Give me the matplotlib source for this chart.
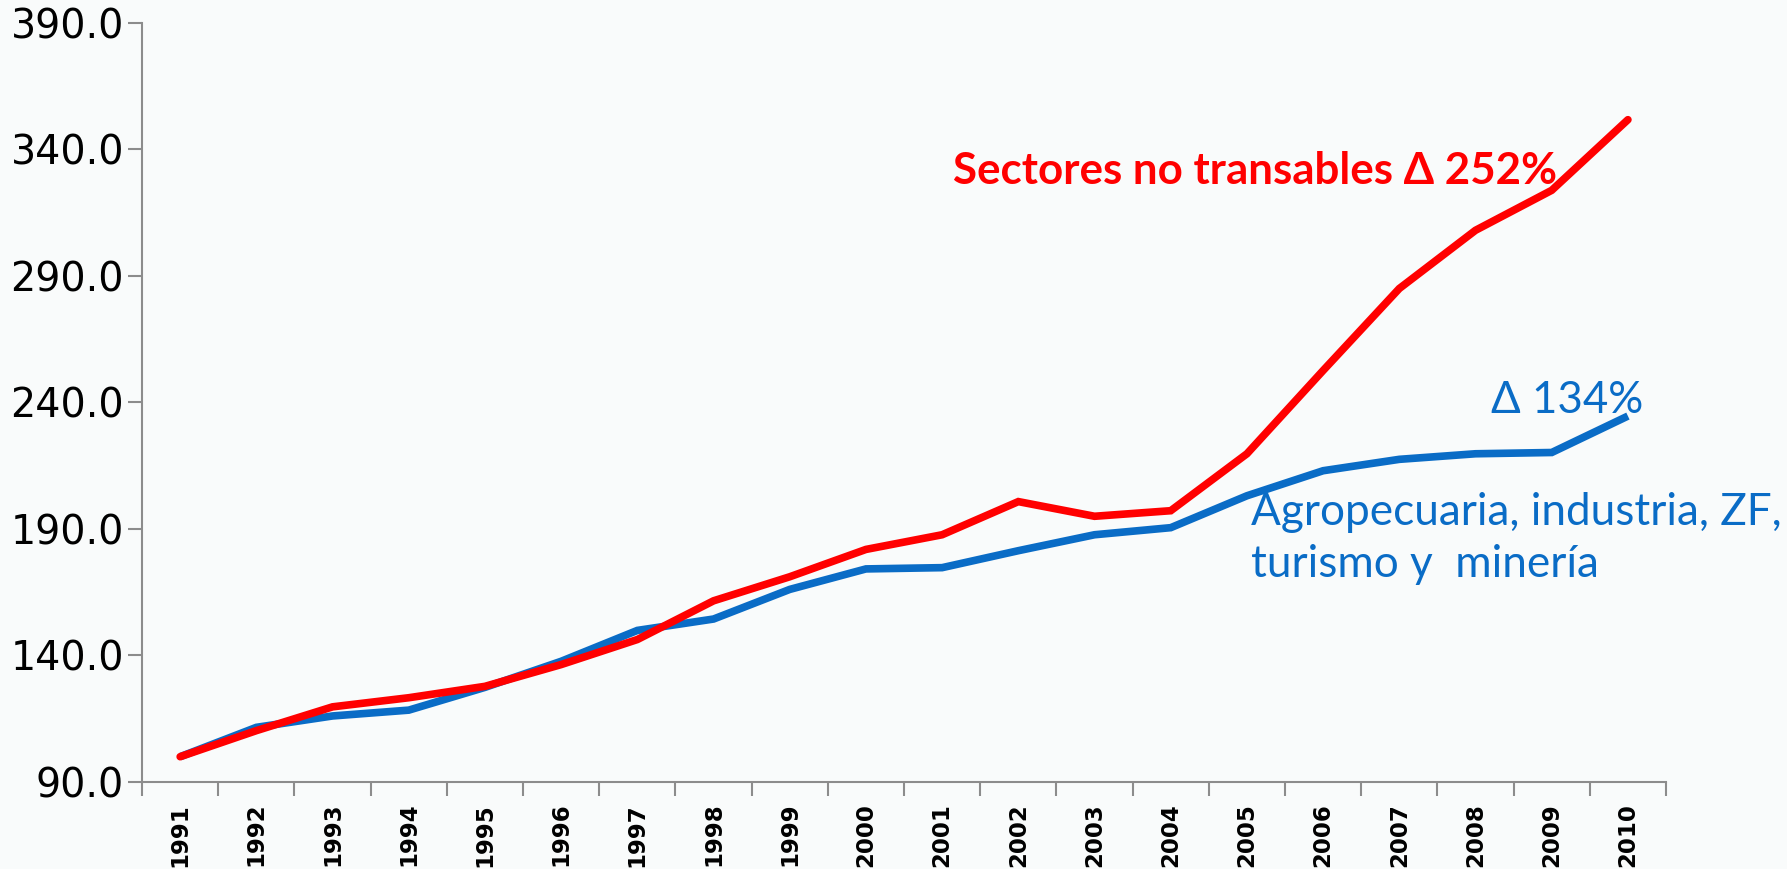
import numpy as np
from matplotlib import pyplot as plt
from matplotlib.ticker import FixedLocator, NullFormatter

#----------------------------------------------------------------------
# datos (indice 1991 = 100)
years = list(range(1991, 2011))
no_transables = [100.0, 110.3, 119.7, 123.3, 127.8, 136.4, 146.3, 161.6, 171.1, 181.9,
                 187.7, 200.8, 195.0, 197.2, 219.7, 252.6, 285.0, 308.0, 323.8, 351.7]
transables = [100.0, 111.6, 116.1, 118.4, 127.4, 137.7, 149.9, 154.4, 166.1, 174.2,
              174.7, 181.4, 187.7, 190.5, 203.1, 213.0, 217.5, 219.7, 220.2, 234.6]
yticks = [90, 140, 190, 240, 290, 340, 390]

RED = '#ff0000'
BLUE = '#0a6cc6'
GRAY = '#8c8c8c'
BG = '#f9fbfb'
TXT_FONT = ['Lato', 'DejaVu Sans']

fig = plt.figure(figsize=(17.87, 8.69), dpi=100)
fig.patch.set_facecolor(BG)
ax = fig.add_axes([0.0795, 0.1001, 0.9323 - 0.0795, 0.9738 - 0.1001])
ax.set_facecolor(BG)

x = np.arange(len(years))
ax.plot(x, transables, color=BLUE, lw=5.5, solid_joinstyle='miter', solid_capstyle='butt')
ax.plot(x, no_transables, color=RED, lw=5.5, solid_joinstyle='miter', solid_capstyle='round')

ax.set_xlim(-0.5, len(years) - 0.5)
ax.set_ylim(90, 390)

# marcas entre categorias, etiquetas en el centro
ax.xaxis.set_major_locator(FixedLocator(np.arange(-0.5, len(years))))
ax.xaxis.set_major_formatter(NullFormatter())
ax.set_xticks(x, minor=True)
ax.set_xticklabels([str(y) for y in years], minor=True, rotation=90,
                   fontsize=16.5, fontweight='bold', family='DejaVu Sans')
ax.tick_params(axis='x', which='minor', length=0, pad=15)
ax.tick_params(axis='x', which='major', length=10, width=1.5, color=GRAY, direction='out')

ax.set_yticks(yticks)
ax.set_yticklabels(['%.1f' % v for v in yticks], fontsize=28.5, family='DejaVu Sans')
ax.tick_params(axis='y', length=10, width=1.5, color=GRAY, direction='out', pad=3)

for s in ['top', 'right']:
    ax.spines[s].set_visible(False)
for s in ['left', 'bottom']:
    ax.spines[s].set_color(GRAY)
    ax.spines[s].set_linewidth(1.5)

# anotaciones
ax.text(10.14, 331.5, 'Sectores no transables \u0394 252%', color=RED, fontsize=31.6,
        fontweight='bold', family=TXT_FONT, va='center', ha='left')
ax.text(17.2, 240.6, '\u0394 134%', color=BLUE, fontsize=31.5, family=TXT_FONT,
        va='center', ha='left')
ax.text(14.05, 196.5, 'Agropecuaria, industria, ZF,', color=BLUE, fontsize=31.8,
        family=TXT_FONT, va='center', ha='left')
ax.text(14.05, 176.0, 'turismo y  miner\u00eda', color=BLUE, fontsize=31.8,
        family=TXT_FONT, va='center', ha='left')

plt.savefig('out.png', dpi=100, facecolor=BG)
